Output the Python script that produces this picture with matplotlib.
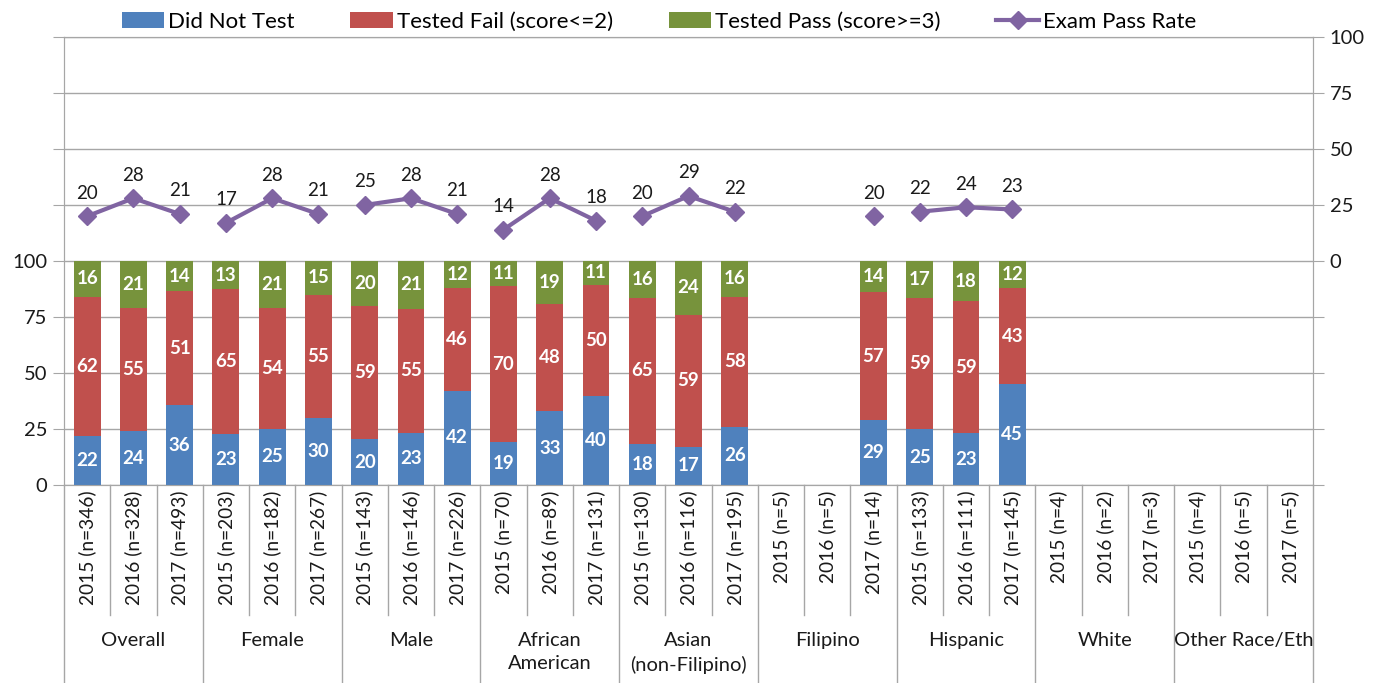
import numpy as np
import matplotlib
matplotlib.use('Agg')
import matplotlib.pyplot as plt

plt.rcParams['font.family'] = ['Lato', 'DejaVu Sans']

# data (percent of students; labels show the rounded values)
groups = ['Overall', 'Female', 'Male', 'African\nAmerican', 'Asian\n(non-Filipino)',
          'Filipino', 'Hispanic', 'White', 'Other Race/Eth']
years = ['2015', '2016', '2017']
counts = [346, 328, 493, 203, 182, 267, 143, 146, 226, 70, 89, 131, 130, 116, 195,
          5, 5, 14, 133, 111, 145, 4, 2, 3, 4, 5, 5]
nan = np.nan
did_not_test = [22, 24, 35.6, 22.8, 25, 30, 20.4, 23.3, 42, 19, 33, 39.7, 18.4, 17, 26,
                nan, nan, 29, 24.8, 23, 45, nan, nan, nan, nan, nan, nan]
tested_fail = [62, 55, 50.8, 64.6, 54, 55, 59.3, 55.4, 46, 70, 48, 49.6, 65.3, 59, 58,
               nan, nan, 57, 58.6, 59, 43, nan, nan, nan, nan, nan, nan]
tested_pass = [16, 21, 13.6, 12.6, 21, 15, 20.3, 21.3, 12, 11, 19, 10.7, 16.3, 24, 16,
               nan, nan, 14, 16.6, 18, 12, nan, nan, nan, nan, nan, nan]
pass_rate = [20, 28, 21, 17, 28, 21, 25, 28, 21, 14, 28, 18, 20, 29, 22,
             nan, nan, 20, 22, 24, 23, nan, nan, nan, nan, nan, nan]

labels = ['%s (n=%d)' % (years[i % 3], c) for i, c in enumerate(counts)]

dnt = np.array(did_not_test, dtype=float)
fail = np.array(tested_fail, dtype=float)
tpass = np.array(tested_pass, dtype=float)
rate = np.array(pass_rate, dtype=float)
x = np.arange(len(labels))

blue, red, green, purple = '#4F81BD', '#C0504D', '#77933C', '#8064A2'
grid_c = '#A6A6A6'
txt_c = '#1a1a1a'

fig = plt.figure(figsize=(13.73, 6.83), dpi=100)
ax = fig.add_axes([64 / 1373, 198 / 683, 1249 / 1373, 448 / 683])
ax2 = ax.twinx()

w = 0.58
h0 = np.nan_to_num(dnt)
h1 = np.nan_to_num(fail)
h2 = np.nan_to_num(tpass)
b0 = ax.bar(x, h0, w, color=blue, label='Did Not Test', zorder=3)
b1 = ax.bar(x, h1, w, bottom=h0, color=red, label='Tested Fail (score<=2)', zorder=3)
b2 = ax.bar(x, h2, w, bottom=h0 + h1, color=green, label='Tested Pass (score>=3)', zorder=3)

for vals, bottoms in [(dnt, np.zeros_like(h0)), (fail, h0), (tpass, h0 + h1)]:
    for xi, v, b in zip(x, vals, bottoms):
        if np.isnan(v):
            continue
        ax.text(xi, b + v / 2, '%d' % round(v), ha='center', va='center', color='white',
                fontsize=13.5, fontweight='bold', zorder=4)

ax.set_xlim(-0.5, len(labels) - 0.5)
ax.set_ylim(0, 200)
ax.set_yticks(np.arange(0, 201, 25))
ax.set_yticklabels([str(t) if t <= 100 else '' for t in range(0, 201, 25)])
ax.grid(axis='y', color=grid_c, lw=1, zorder=0)
ax.set_xticks([])

# exam pass rate line, one segment per group
line = None
for g in range(len(groups)):
    sl = slice(3 * g, 3 * g + 3)
    ln, = ax2.plot(x[sl], rate[sl], color=purple, lw=3, marker='D', ms=9.5,
                   zorder=5, label='Exam Pass Rate')
    if line is None:
        line = ln
for xi, v in zip(x, rate):
    if not np.isnan(v):
        ax2.text(xi, v + 6.5, '%d' % v, ha='center', va='bottom', fontsize=13.5,
                 color=txt_c)
ax2.set_ylim(-100, 100)
ax2.set_yticks(np.arange(-100, 101, 25))
ax2.set_yticklabels([str(t) if t >= 0 else '' for t in range(-100, 101, 25)])

for a in (ax, ax2):
    for s in a.spines.values():
        s.set_color(grid_c)
    a.tick_params(axis='y', length=8, color=grid_c, labelsize=14.5, labelcolor=txt_c, pad=4)

# category labels and separators below the axis
tr = ax.get_xaxis_transform()
for k in range(len(labels) + 1):
    y_end = -0.443 if k % 3 == 0 else -0.29
    ax.plot([k - 0.5, k - 0.5], [0, y_end], transform=tr, color=grid_c, lw=1,
            clip_on=False)
for xi, lab in zip(x, labels):
    ax.text(xi, -0.012, lab, transform=tr, rotation=90, ha='center', va='top',
            fontsize=13.8, color=txt_c)
for g, name in enumerate(groups):
    ax.text(3 * g + 1, -0.328, name, transform=tr, ha='center', va='top',
            fontsize=14.5, color=txt_c, linespacing=1.45)

handles = [b0, b1, b2, line]
fig.legend(handles, [h.get_label() for h in handles], loc='upper center',
           bbox_to_anchor=(0.48, 1.012), ncol=4, frameon=False, fontsize=16,
           handlelength=1.9, handleheight=0.7, columnspacing=2.5, handletextpad=0.2)

fig.savefig('out.png', dpi=100)
